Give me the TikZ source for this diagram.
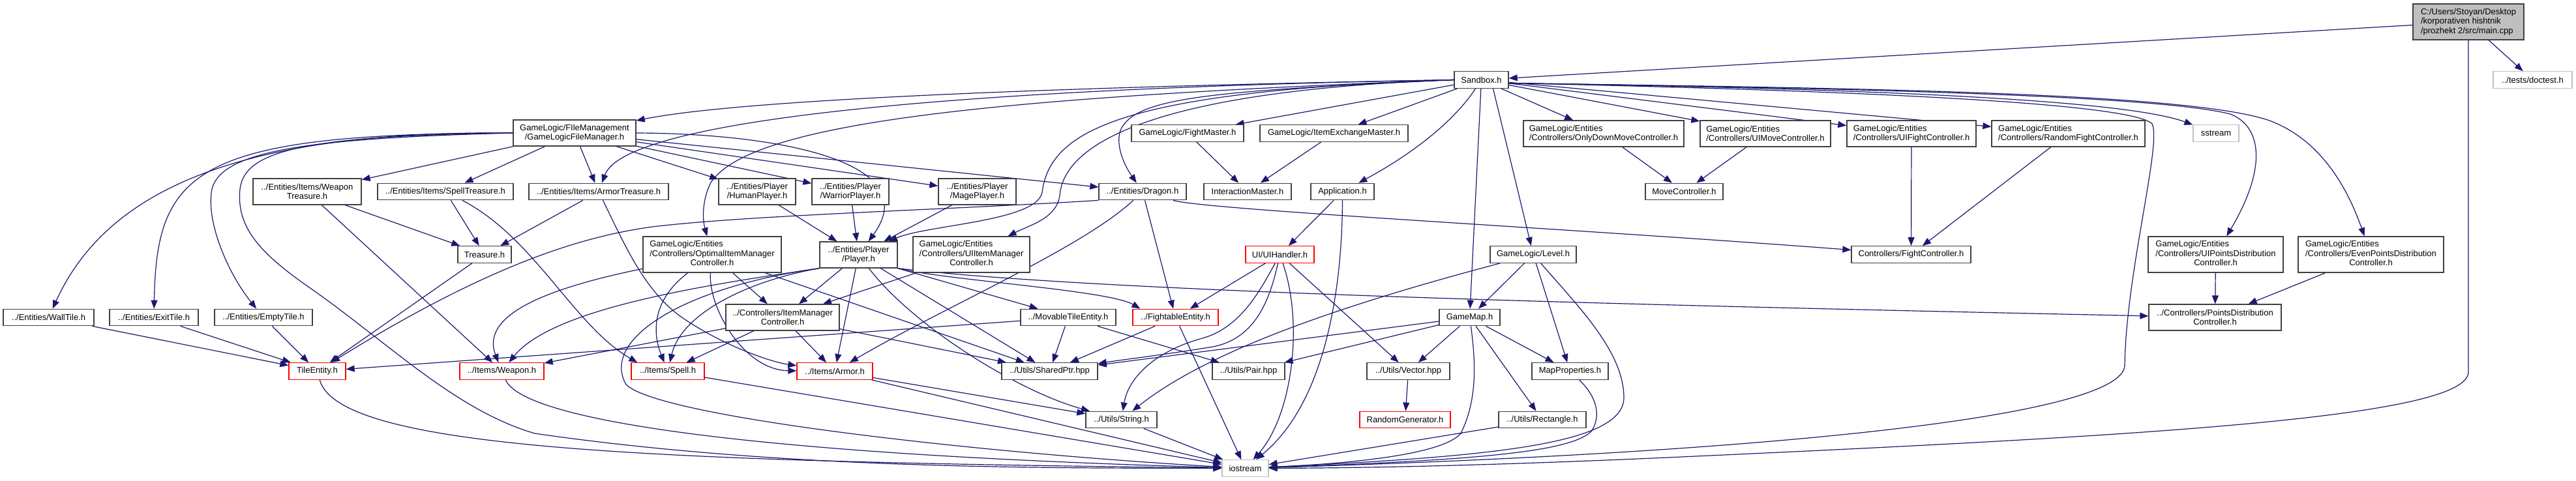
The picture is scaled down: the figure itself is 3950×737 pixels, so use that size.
\documentclass[tikz,border=0pt]{standalone}
\usepackage{fontspec}
\setmainfont{Liberation Sans}
\usetikzlibrary{arrows.meta}
\definecolor{edgecol}{HTML}{191970}
\definecolor{sysgray}{HTML}{BFBFBF}
\definecolor{boxline}{HTML}{404040}
\definecolor{redb}{HTML}{FF0000}
\pgfdeclarelayer{background}
\pgfsetlayers{background,main}
\newcommand{\mixlab}[3]{\begin{tabular}{@{}l@{}}#1\\#2\\\multicolumn{1}{@{}c@{}}{#3}\end{tabular}}
\begin{document}
\begin{tikzpicture}[x=1pt,y=-1pt,
  box/.style={draw=boxline, line width=1.3pt, fill=white, inner sep=0pt, minimum height=25.5pt, font=\fontsize{13}{14.5}\selectfont, text=black},
  redbox/.style={box, draw=redb},
  sysbox/.style={box, draw=sysgray},
  two/.style={minimum height=40pt},
  three/.style={minimum height=55pt},
  dep/.style={draw=edgecol, line width=1.2pt, -{Triangle[length=13pt,width=10pt]}},
]
\useasboundingbox (0,0) rectangle (3950,737);
% ---------- nodes ----------
\node[box, fill=sysgray, three, minimum width=170pt, align=left] (main) at (3785,33.5) {C:/Users/Stoyan/Desktop\\/korporativen hishtnik\\/prozhekt 2/src/main.cpp};
\node[sysbox, minimum width=121pt] (doctest) at (3883.5,122.5) {../tests/doctest.h};
\node[box, minimum width=83pt] (sandbox) at (2271.5,122.5) {Sandbox.h};
\node[box, two, minimum width=188pt, align=center] (filemgr) at (881,204) {GameLogic/FIleManagement\\/GameLogicFileManager.h};
\node[box, minimum width=172pt] (fightm) at (1821,204.5) {GameLogic/FightMaster.h};
\node[box, minimum width=227pt] (itemex) at (2045.5,204.5) {GameLogic/ItemExchangeMaster.h};
\node[box, two, minimum width=246pt, align=left] (onlydown) at (2459,205) {GameLogic/Entities\\/Controllers/OnlyDownMoveController.h};
\node[box, two, minimum width=200pt, align=left] (uimove) at (2707,205) {GameLogic/Entities\\/Controllers/UIMoveController.h};
\node[box, two, minimum width=198pt, align=left] (uifight) at (2931,205) {GameLogic/Entities\\/Controllers/UIFightController.h};
\node[box, two, minimum width=235pt, align=left] (randfight) at (3171.5,205) {GameLogic/Entities\\/Controllers/RandomFightController.h};
\node[sysbox, minimum width=70pt] (sstream) at (3398,204.5) {sstream};
\node[box, two, minimum width=166pt, align=center] (weapontr) at (471,294) {../Entities/Items/Weapon\\Treasure.h};
\node[box, minimum width=208pt] (spelltr) at (683,294) {../Entities/Items/SpellTreasure.h};
\node[box, minimum width=214pt] (armortr) at (918,294) {../Entities/Items/ArmorTreasure.h};
\node[box, two, minimum width=118pt, align=center] (human) at (1161,294) {../Entities/Player\\/HumanPlayer.h};
\node[box, two, minimum width=118pt, align=center] (warrior) at (1304,294) {../Entities/Player\\/WarriorPlayer.h};
\node[box, two, minimum width=119pt, align=center] (mage) at (1498.5,294) {../Entities/Player\\/MagePlayer.h};
\node[box, minimum width=134pt] (dragon) at (1752,294) {../Entities/Dragon.h};
\node[box, minimum width=134pt] (interm) at (1913,294) {InteractionMaster.h};
\node[box, minimum width=97pt] (app) at (2058.5,294) {Application.h};
\node[box, minimum width=119pt] (movectrl) at (2582.5,294) {MoveController.h};
\node[box, minimum width=82pt] (treasure) at (743,390.5) {Treasure.h};
\node[box, three, minimum width=212pt] (optimal) at (1092,390.5) {\mixlab{GameLogic/Entities}{/Controllers/OptimalItemManager}{Controller.h}};
\node[box, two, minimum width=119pt, align=center] (player) at (1316.5,391) {../Entities/Player\\/Player.h};
\node[box, three, minimum width=179pt] (uiitem) at (1489.5,390.5) {\mixlab{GameLogic/Entities}{/Controllers/UIItemManager}{Controller.h}};
\node[redbox, minimum width=105pt] (uihandler) at (1962.5,390.5) {UI/UIHandler.h};
\node[box, minimum width=132pt] (level) at (2351,390.5) {GameLogic/Level.h};
\node[box, minimum width=183pt] (fightctrl) at (2930.5,390.5) {Controllers/FightController.h};
\node[box, three, minimum width=207pt] (uipoints) at (3397.5,390.5) {\mixlab{GameLogic/Entities}{/Controllers/UIPointsDistribution}{Controller.h}};
\node[box, three, minimum width=223pt] (evenpoints) at (3635.5,390.5) {\mixlab{GameLogic/Entities}{/Controllers/EvenPointsDistribution}{Controller.h}};
\node[box, minimum width=139pt] (walltile) at (74.5,487) {../Entities/WallTile.h};
\node[box, minimum width=136pt] (exittile) at (236,487) {../Entities/ExitTile.h};
\node[box, minimum width=150pt] (emptytile) at (404,487) {../Entities/EmptyTile.h};
\node[box, two, minimum width=174pt, align=center] (itemmgr) at (1200,487) {../Controllers/ItemManager\\Controller.h};
\node[box, minimum width=146pt] (movable) at (1638,487) {../MovableTileEntity.h};
\node[redbox, minimum width=131pt] (fightable) at (1802.5,487) {../FightableEntity.h};
\node[box, minimum width=93pt] (gamemap) at (2253.5,487) {GameMap.h};
\node[box, two, minimum width=203pt, align=center] (pointsdist) at (3396.5,487) {../Controllers/PointsDistribution\\Controller.h};
\node[redbox, minimum width=87pt] (tileentity) at (486.5,569.5) {TileEntity.h};
\node[redbox, minimum width=129pt] (weapon) at (769.5,569.5) {../Items/Weapon.h};
\node[redbox, minimum width=112pt] (spell) at (1024,569.5) {../Items/Spell.h};
\node[redbox, minimum width=116pt] (armor) at (1280,569.5) {../Items/Armor.h};
\node[box, minimum width=147pt] (sharedptr) at (1609.5,569.5) {../Utils/SharedPtr.hpp};
\node[box, minimum width=111pt] (pair) at (1914.5,569.5) {../Utils/Pair.hpp};
\node[box, minimum width=127pt] (vector) at (2159.5,569.5) {../Utils/Vector.hpp};
\node[box, minimum width=117pt] (mapprop) at (2407.5,569.5) {MapProperties.h};
\node[box, minimum width=109pt] (string) at (1719.5,644) {../Utils/String.h};
\node[redbox, minimum width=139pt] (randgen) at (2154.5,644) {RandomGenerator.h};
\node[box, minimum width=134pt] (rect) at (2365,644) {../Utils/Rectangle.h};
\node[sysbox, minimum width=71pt] (iostream) at (1909.5,718.5) {iostream};
% ---------- edges ----------
\begin{pgfonlayer}{background}
\fill[white] (0,0) rectangle (3950,737);
% main.cpp
\draw[dep] (main) -- (sandbox);
\draw[dep] (main) -- (doctest);
\draw[dep] (main.south) -- ++(0,509) .. controls (3785,640) and (3300,668) .. (2600,700) .. controls (2300,714) and (2100,718) .. (iostream);
% Sandbox.h
\draw[dep] (sandbox.west) .. controls (1700,132) and (1150,150) .. (filemgr);
\draw[dep] (sandbox.west) .. controls (1500,135) and (960,180) .. (armortr);
\draw[dep] (sandbox.west) .. controls (1500,150) and (1150,190) .. (1090,280) .. controls (1075,310) and (1078,340) .. (optimal);
\draw[dep] (sandbox.west) .. controls (1720,140) and (1610,200) .. (1598,295) .. controls (1590,340) and (1420,345) .. (player);
\draw[dep] (sandbox.west) .. controls (1740,140) and (1630,230) .. (1625,300) .. controls (1620,335) and (1580,345) .. (uiitem);
\draw[dep] (sandbox.west) .. controls (1850,140) and (1740,150) .. (1718,200) .. controls (1710,225) and (1725,255) .. (dragon);
\draw[dep] (sandbox) -- (fightm);
\draw[dep] (sandbox) -- (itemex);
\draw[dep] (sandbox) .. controls (2220,200) and (2140,250) .. (app);
\draw[dep] (sandbox) -- (gamemap);
\draw[dep] ([xshift=18pt]sandbox.south) -- (level);
\draw[dep] (sandbox) -- (onlydown);
\draw[dep] (sandbox) -- (uimove);
\draw[dep] (sandbox) -- (uifight);
\draw[dep] (sandbox) -- (randfight);
\draw[dep] ([yshift=-5pt]sandbox.east) .. controls (2800,135) and (3250,150) .. (sstream);
\draw[dep] ([yshift=-5pt]sandbox.east) .. controls (2800,135) and (3300,145) .. (3420,175) .. controls (3470,195) and (3475,260) .. (uipoints);
\draw[dep] ([yshift=-5pt]sandbox.east) .. controls (2800,135) and (3350,140) .. (3480,185) .. controls (3560,215) and (3600,290) .. (evenpoints);
\draw[dep] ([yshift=-5pt]sandbox.east) .. controls (2900,140) and (3270,160) .. (3300,190) .. controls (3315,220) and (3260,420) .. (3258,560) .. controls (3258,640) and (2700,695) .. (iostream);
% FileManager
\draw[dep] (filemgr.west) .. controls (350,200) and (160,300) .. (walltile);
\draw[dep] (filemgr.west) .. controls (300,205) and (240,260) .. (exittile);
\draw[dep] (filemgr.west) .. controls (480,212) and (340,230) .. (325,290) .. controls (315,340) and (350,420) .. (emptytile);
\draw[dep] (filemgr.west) .. controls (450,208) and (375,235) .. (368,290) .. controls (362,350) and (400,390) .. (480,445) .. controls (600,530) and (700,630) .. (820,665) .. controls (1200,720) and (1600,718) .. (iostream);
\draw[dep] (filemgr) -- (weapontr);
\draw[dep] (filemgr) -- (spelltr);
\draw[dep] (filemgr) -- (armortr);
\draw[dep] (filemgr) -- (human);
\draw[dep] (filemgr) -- (warrior);
\draw[dep] (filemgr) -- (mage);
\draw[dep] (filemgr.east) .. controls (1200,205) and (1420,250) .. (player);
\draw[dep] (filemgr) -- (dragon);
% treasures
\draw[dep] (weapontr) -- (treasure);
\draw[dep] (weapontr) -- (weapon);
\draw[dep] (spelltr) -- (treasure);
\draw[dep] (spelltr) .. controls (820,365) and (880,500) .. ([xshift=10pt]spell.north west);
\draw[dep] (armortr) -- (treasure);
\draw[dep] (armortr) .. controls (960,380) and (990,450) .. (1050,490) .. controls (1110,530) and (1180,555) .. (armor);
\draw[dep] (treasure) -- (tileentity);
% tiles
\draw[dep] (walltile) -- (tileentity);
\draw[dep] (exittile) -- (tileentity);
\draw[dep] (emptytile) -- (tileentity);
\draw[dep] (movable) -- (tileentity);
\draw[dep] (dragon.south west) .. controls (1450,322) and (1150,330) .. (1000,348) .. controls (900,362) and (760,400) .. (tileentity);
% players
\draw[dep] (human) -- (player);
\draw[dep] (warrior) -- (player);
\draw[dep] (mage) -- (player);
% item managers
\draw[dep] (player) -- (itemmgr);
\draw[dep] (optimal) -- (itemmgr);
\draw[dep] (uiitem) -- (itemmgr);
% weapon
\draw[dep] (player.south west) .. controls (1100,435) and (850,470) .. (weapon);
\draw[dep] (optimal) .. controls (850,440) and (735,480) .. (weapon);
\draw[dep] (itemmgr) -- (weapon);
% spell
\draw[dep] (optimal) .. controls (1000,460) and (1000,510) .. (spell);
\draw[dep] (player.south west) .. controls (1150,430) and (1045,480) .. (spell);
\draw[dep] (itemmgr) -- (spell);
% armor
\draw[dep] (optimal) .. controls (1085,470) and (1140,568) .. (armor);
\draw[dep] (player) -- (armor);
\draw[dep] (itemmgr) -- (armor);
\draw[dep] (dragon) .. controls (1660,380) and (1450,470) .. (armor);
% shared ptr
\draw[dep] (itemmgr) -- (sharedptr);
\draw[dep] (optimal) -- (sharedptr);
\draw[dep] (player) -- (sharedptr);
\draw[dep] (movable) -- (sharedptr);
\draw[dep] (fightable) -- (sharedptr);
\draw[dep] (gamemap) -- (sharedptr);
\draw[dep] (uihandler) .. controls (1945,470) and (1920,520) .. (1860,532) .. controls (1780,545) and (1720,552) .. (sharedptr);
% fightable / movable
\draw[dep] (uihandler) -- (fightable);
\draw[dep] (dragon) -- (fightable);
\draw[dep] (player.south east) .. controls (1450,430) and (1700,445) .. ([xshift=12pt]fightable.north west);
\draw[dep] (player.south east) -- (movable);
\draw[dep] (movable) -- (pair);
\draw[dep] (player.south east) .. controls (1700,450) and (2600,470) .. (pointsdist);
% string
\draw[dep] (player) .. controls (1400,500) and (1560,600) .. (string);
\draw[dep] (armor) -- (string);
\draw[dep] (uihandler) .. controls (1930,450) and (1900,505) .. (1840,520) .. controls (1770,540) and (1730,580) .. (string);
\draw[dep] (level) .. controls (2050,470) and (1850,540) .. (string);
% iostream
\draw[dep] (string) -- (iostream);
\draw[dep] (spell) -- (iostream);
\draw[dep] (armor) -- (iostream);
\draw[dep] (weapon) .. controls (800,640) and (1100,695) .. (iostream);
\draw[dep] (tileentity) .. controls (520,690) and (1000,708) .. (iostream);
\draw[dep] (player.south west) .. controls (1050,440) and (920,520) .. (960,590) .. controls (1010,640) and (1500,695) .. (iostream);
\draw[dep] (rect) -- (iostream);
\draw[dep] (mapprop) .. controls (2450,610) and (2455,640) .. (2440,662) .. controls (2410,690) and (2300,705) .. (iostream);
\draw[dep] (level) .. controls (2420,470) and (2490,540) .. (2490,610) .. controls (2490,680) and (2300,700) .. (iostream);
\draw[dep] (gamemap) .. controls (2265,570) and (2262,620) .. (2240,665) .. controls (2210,700) and (2050,712) .. (iostream);
\draw[dep] (uihandler) .. controls (2000,500) and (1980,640) .. (iostream);
\draw[dep] (app) .. controls (2058,450) and (2030,620) .. (iostream);
\draw[dep] (fightable) -- (iostream);
% others
\draw[dep] (app) -- (uihandler);
\draw[dep] (uihandler) -- (vector);
\draw[dep] (level) -- (gamemap);
\draw[dep] (level) -- (mapprop);
\draw[dep] (gamemap) -- (pair);
\draw[dep] (gamemap) -- (vector);
\draw[dep] (gamemap) -- (mapprop);
\draw[dep] (gamemap) -- (rect);
\draw[dep] (vector) -- (randgen);
\draw[dep] (fightm) -- (interm);
\draw[dep] (itemex) -- (interm);
\draw[dep] (onlydown) -- (movectrl);
\draw[dep] (uimove) -- (movectrl);
\draw[dep] (uifight) -- (fightctrl);
\draw[dep] (randfight) -- (fightctrl);
\draw[dep] (dragon) .. controls (1850,322) and (2400,350) .. (fightctrl);
\draw[dep] (uipoints) -- (pointsdist);
\draw[dep] (evenpoints) -- (pointsdist);
\end{pgfonlayer}
\end{tikzpicture}
\end{document}
